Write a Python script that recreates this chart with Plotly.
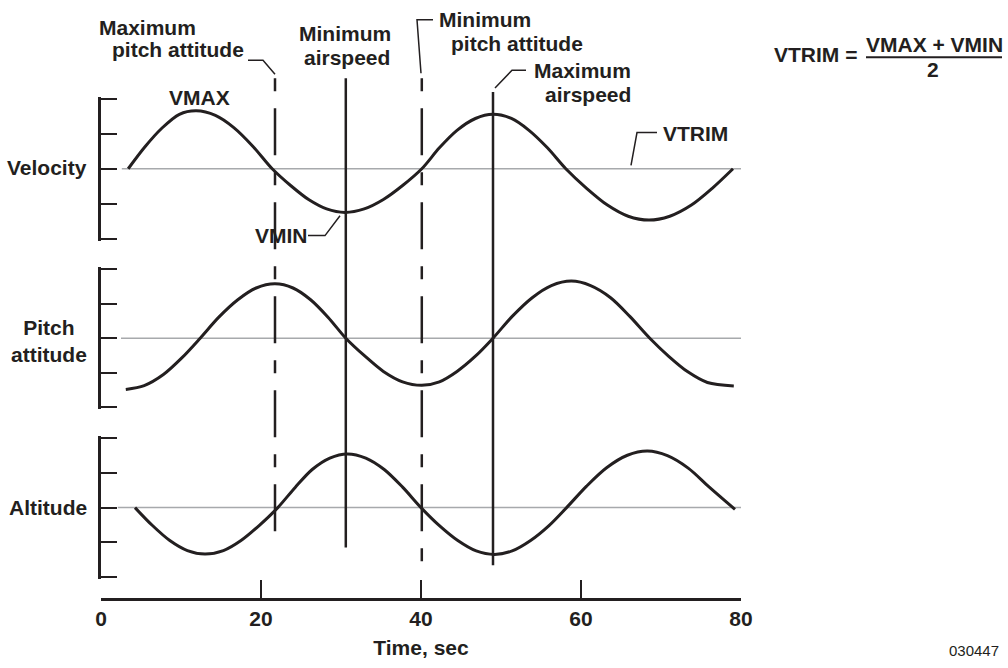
import plotly.graph_objects as go

# ---------------- data ----------------
time_velocity = [3.4, 5.5, 7.6, 9.8, 11.9, 14.3, 16.6, 19.0, 21.4, 23.7, 26.0, 28.2, 30.5, 32.9, 35.3, 37.7,
                 40.1, 42.3, 44.5, 46.8, 49.0, 51.3, 53.5, 55.8, 58.1, 60.7, 63.3, 65.9, 68.5, 71.1, 73.8, 76.4, 79.0]
velocity = [0, 0.63, 1.16, 1.56, 1.66, 1.53, 1.18, 0.64, 0, -0.48, -0.89, -1.15, -1.25, -1.15, -0.88, -0.48,
            0, 0.60, 1.10, 1.44, 1.56, 1.44, 1.10, 0.60, 0, -0.56, -1.04, -1.36, -1.47, -1.36, -1.04, -0.56, 0]

time_pitch = [3.1, 5.4, 7.8, 10.1, 12.4, 14.7, 17.1, 19.4, 21.75, 24.0, 26.2, 28.4, 30.6, 33.0, 35.3, 37.7,
              40.1, 42.3, 44.5, 46.8, 49.0, 51.4, 53.9, 56.3, 58.8, 61.2, 63.7, 66.1, 68.6, 71.0, 73.4, 75.8, 79.1]
pitch = [-1.48, -1.37, -1.05, -0.57, 0, 0.60, 1.11, 1.45, 1.57, 1.45, 1.11, 0.60, 0, -0.52, -0.96, -1.26,
         -1.36, -1.26, -0.96, -0.52, 0, 0.63, 1.17, 1.52, 1.65, 1.52, 1.17, 0.63, 0, -0.53, -0.98, -1.28, -1.38]

time_altitude = [4.25, 6.4, 8.6, 10.8, 13.0, 15.3, 17.5, 19.8, 22.1, 24.3, 26.4, 28.6, 30.8, 33.1, 35.4, 37.7,
                 40.0, 42.3, 44.6, 46.9, 49.2, 51.4, 53.7, 56.0, 58.2, 60.7, 63.2, 65.8, 68.3, 70.8, 73.4, 76.0, 79.25]
altitude = [0, -0.51, -0.95, -1.24, -1.34, -1.24, -0.95, -0.51, 0, 0.59, 1.10, 1.43, 1.55, 1.43, 1.10, 0.59,
            0, -0.52, -0.95, -1.25, -1.35, -1.25, -0.95, -0.52, 0, 0.62, 1.15, 1.51, 1.63, 1.50, 1.14, 0.60, -0.05]

trim_start = [2.6, 2.5, 2.1]
trim_end = 80

panel_labels = ["Velocity", "Pitch<br>attitude", "Altitude"]
scale_ticks = [-2, -1, 0, 1, 2]

x_tick_vals = [0, 20, 40, 60, 80]
x_tick_text = ["0", "20", "40", "60", "80"]
x_tick_marks = [20, 40, 60, 80]
x_title = "Time, sec"

event_times = [21.75, 30.6, 40.1, 49.0]
event_dashed = [True, False, True, False]

# ---------------- layout helpers ----------------
W, H = 1008, 668
L, R, T, B = 101, 267, 94, 64
PW, PH = W - L - R, H - T - B
INK = "#231f20"
FONT = "Liberation Sans, Arial, Helvetica, sans-serif"


def px(xp):
    return (xp - L) / PW


def py(yp):
    return 1 - (yp - T) / PH


fig = go.Figure()

axes = ["y", "y2", "y3"]
series = [(time_velocity, velocity), (time_pitch, pitch), (time_altitude, altitude)]
for ax, (t, v), ts in zip(axes, series, trim_start):
    fig.add_trace(go.Scatter(x=[ts, trim_end], y=[0, 0], yaxis=ax, mode="lines",
                             line=dict(color="#a7a9ac", width=1.5),
                             hoverinfo="skip", showlegend=False))
    fig.add_trace(go.Scatter(x=t, y=v, yaxis=ax, mode="lines",
                             line=dict(color=INK, width=3, shape="spline", smoothing=0.9),
                             hoverinfo="skip", showlegend=False))

# dummy trace so the overlay tick axis is drawn
fig.add_trace(go.Scatter(x=[None], y=[None], xaxis="x2", yaxis="y3", showlegend=False, hoverinfo="skip"))

# panel extents (pixel rows of the top and bottom scale ticks)
panel_px = [(99, 240), (270.7, 410.5), (441.7, 581.7)]
EXT = 0.06  # small range padding so the end ticks are not clipped by plotly
domains = []
for top, bot in panel_px:
    h = bot - top
    extra = h * EXT / 4
    domains.append([max(0, py(bot + extra)), min(1, py(top - extra))])

yax_common = dict(range=[-2 - EXT, 2 + EXT], anchor="x", showline=True, linecolor=INK, linewidth=2.5,
                  ticks="inside", ticklen=16, tickwidth=2, tickcolor=INK,
                  tickvals=scale_ticks, showticklabels=False, showgrid=False,
                  zeroline=False, fixedrange=True)

layout = dict(
    width=W, height=H, autosize=False,
    margin=dict(l=L, r=R, t=T, b=B, pad=0),
    paper_bgcolor="white", plot_bgcolor="white",
    showlegend=False,
    font=dict(family=FONT, color=INK),
    xaxis=dict(range=[0, 80], domain=[0, 1], anchor="free", position=0,
               showline=True, linecolor=INK, linewidth=2.5, ticks="",
               tickvals=x_tick_vals, ticktext=x_tick_text,
               tickfont=dict(size=21, family=FONT, weight="bold", color=INK),
               showgrid=False, zeroline=False, fixedrange=True,
               title=dict(text=x_title, font=dict(size=21, family=FONT, weight="bold", color=INK),
                          standoff=11)),
    xaxis2=dict(range=[0, 80], overlaying="x", anchor="free", position=0,
                ticks="inside", ticklen=19, tickwidth=1.5, tickcolor=INK,
                tickvals=x_tick_marks, showticklabels=False, showline=False,
                showgrid=False, zeroline=False, fixedrange=True),
)
for i, ax in enumerate(axes):
    key = "yaxis" if ax == "y" else "yaxis" + ax[1:]
    d = dict(yax_common)
    d["domain"] = domains[i]
    layout[key] = d
fig.update_layout(**layout)

# ---------------- event lines ----------------
event_extent = [(78, 547), (78, 552), (78, 567), (92, 570)]
for t, dashed, (top, bot) in zip(event_times, event_dashed, event_extent):
    fig.add_shape(type="line", xref="x", yref="paper", x0=t, x1=t, y0=py(top), y1=py(bot),
                  line=dict(color=INK, width=2.5, dash="13px,17px,47px,17px" if dashed else "solid"),
                  layer="above")

# ---------------- leader lines ----------------
leaders = [
    [(248, 60), (263, 60), (275, 74)],
    [(433, 19), (417, 19), (421, 73)],
    [(495, 88), (512, 70), (526, 70)],
    [(631, 166), (637, 133), (657, 133)],
    [(308, 237), (325, 237), (340, 217)],
]
for pts in leaders:
    path = "M " + " L ".join(f"{px(a):.5f},{py(b):.5f}" for a, b in pts)
    fig.add_shape(type="path", xref="paper", yref="paper", path=path,
                  line=dict(color=INK, width=1.5))

# fraction bar
fig.add_shape(type="line", xref="paper", yref="paper", x0=px(866), x1=px(1002), y0=py(57), y1=py(57),
              line=dict(color=INK, width=2))


def note(text, xp, yp, xanchor="left", size=21, bold=True, yanchor="middle", align="left"):
    fig.add_annotation(text=text, xref="paper", yref="paper", x=px(xp), y=py(yp),
                       xanchor=xanchor, yanchor=yanchor, showarrow=False, align=align,
                       font=dict(size=size, family=FONT, color=INK, weight="bold" if bold else "normal"))


note("Maximum", 97, 27)
note("pitch attitude", 110, 49)
note("Minimum", 297, 33)
note("airspeed", 302, 57)
note("Minimum", 437, 19)
note("pitch attitude", 449, 43)
note("Maximum", 532, 70)
note("airspeed", 543, 95)
note("VMAX", 167, 98)
note("VMIN", 253, 237)
note("VTRIM", 661, 134)
note("VTRIM =", 772, 54)
note("VMAX + VMIN", 934, 44, xanchor="center")
note("2", 933, 69, xanchor="center")

for lab, yc in zip(panel_labels, [168, 343, 512]):
    note(lab, 89, yc, xanchor="right", align="center")

note("030447", 947, 667, size=15, bold=False, yanchor="bottom")

fig.write_html("out.html")
